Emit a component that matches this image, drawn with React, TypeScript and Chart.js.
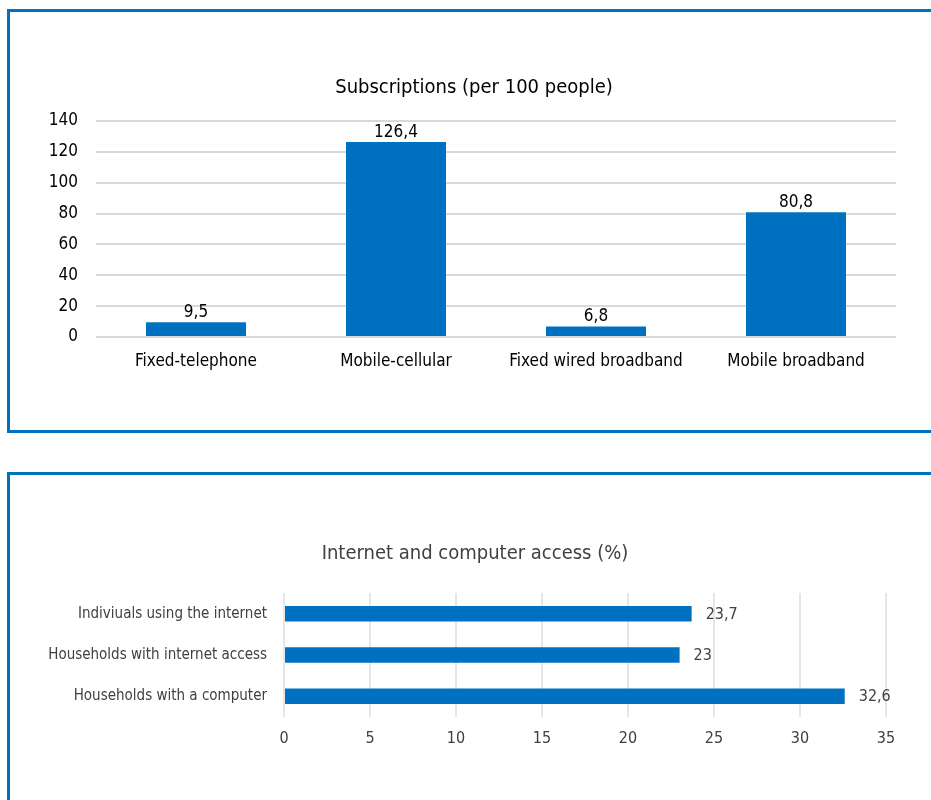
import React, { useEffect, useRef } from "react";
import { Chart, registerables } from "chart.js";

Chart.register(...registerables);

const FONT = '"Liberation Sans Narrow", "Arial Narrow", "DejaVu Sans Condensed", "Roboto", sans-serif';

const subsCategories = ["Fixed-telephone", "Mobile-cellular", "Fixed wired broadband", "Mobile broadband"];
const subsValues = [9.5, 126.4, 6.8, 80.8];
const subsTitle = "Subscriptions (per 100 people)";

const accessCategories = ["Indiviuals using the internet", "Households with internet access", "Households with a computer"];
const accessValues = [23.7, 23, 32.6];
const accessTitle = "Internet and computer access (%)";

const BLUE = "#0070C0";
const fmt = (v: number) => String(v).replace(".", ",");

// shift the title block so that it is centred on the framed panel rather than on the plot
const titleShift = (leftEdge: number) => ({
  id: "titleShift",
  afterLayout(chart: any) {
    const tb = chart.titleBlock;
    if (tb) {
      tb.left = leftEdge;
    }
  },
});

const topLabels = {
  id: "topLabels",
  afterDatasetsDraw(chart: any) {
    const ctx = chart.ctx;
    const meta = chart.getDatasetMeta(0);
    ctx.save();
    ctx.font = `17px ${FONT}`;
    ctx.fillStyle = "#000000";
    ctx.textAlign = "center";
    ctx.textBaseline = "bottom";
    meta.data.forEach((bar: any, i: number) => {
      ctx.fillText(fmt(subsValues[i]), bar.x, bar.y - 1);
    });
    ctx.restore();
  },
};

const sideLabels = {
  id: "sideLabels",
  afterDatasetsDraw(chart: any) {
    const ctx = chart.ctx;
    const meta = chart.getDatasetMeta(0);
    ctx.save();
    ctx.font = `16px ${FONT}`;
    ctx.fillStyle = "#404040";
    ctx.textAlign = "left";
    ctx.textBaseline = "middle";
    meta.data.forEach((bar: any, i: number) => {
      ctx.fillText(fmt(accessValues[i]), bar.x + 14, bar.y + 1);
    });
    ctx.restore();
  },
};

function TopChart() {
  const ref = useRef<HTMLCanvasElement | null>(null);
  useEffect(() => {
    if (!ref.current) return;
    const chart = new Chart(ref.current, {
      type: "bar",
      data: {
        labels: subsCategories,
        datasets: [
          {
            data: subsValues,
            backgroundColor: BLUE,
            barPercentage: 0.5,
            categoryPercentage: 1,
          },
        ],
      },
      options: {
        responsive: false,
        animation: false,
        layout: { padding: { top: 76, left: 0, right: 35, bottom: 63 } },
        plugins: {
          legend: { display: false },
          tooltip: { enabled: false },
          title: {
            display: true,
            text: subsTitle,
            color: "#000000",
            font: { family: FONT, size: 20, weight: "normal", lineHeight: 1.2 },
            padding: { top: 0, bottom: 21 },
          },
        },
        scales: {
          x: {
            grid: { display: false, drawTicks: false },
            border: { display: false },
            ticks: { color: "#000000", font: { family: FONT, size: 17 }, padding: 14, maxRotation: 0 },
            afterFit: (s: any) => {
              s.height = 40;
            },
          },
          y: {
            min: 0,
            max: 140,
            ticks: { stepSize: 20, color: "#000000", font: { family: FONT, size: 17 }, padding: 18 },
            grid: { color: "#d9d9d9", lineWidth: 2, drawTicks: false },
            border: { display: false },
            afterFit: (s: any) => {
              s.width = 96;
            },
          },
        },
      },
      plugins: [topLabels, titleShift(52)],
    });
    return () => chart.destroy();
  }, []);
  return (
    <canvas
      ref={ref}
      width={931}
      height={440}
      style={{ position: "absolute", left: 0, top: 0, width: 931, height: 440 }}
    />
  );
}

function BottomChart() {
  const ref = useRef<HTMLCanvasElement | null>(null);
  useEffect(() => {
    if (!ref.current) return;
    const chart = new Chart(ref.current, {
      type: "bar",
      data: {
        labels: accessCategories,
        datasets: [
          {
            data: accessValues,
            backgroundColor: BLUE,
            barPercentage: 0.75,
            categoryPercentage: 0.5,
          },
        ],
      },
      options: {
        indexAxis: "y",
        responsive: false,
        animation: false,
        layout: { padding: { top: 70, left: 0, right: 45, bottom: 43 } },
        plugins: {
          legend: { display: false },
          tooltip: { enabled: false },
          title: {
            display: true,
            text: accessTitle,
            color: "#404040",
            font: { family: FONT, size: 20, weight: "normal", lineHeight: 1.2 },
            padding: { top: 0, bottom: 27 },
          },
        },
        scales: {
          x: {
            min: 0,
            max: 35,
            ticks: { stepSize: 5, color: "#404040", font: { family: FONT, size: 16 }, padding: 12 },
            grid: { color: "#e6e6e6", lineWidth: 2, drawTicks: false },
            border: { display: false },
            afterFit: (s: any) => {
              s.height = 40;
            },
          },
          y: {
            grid: { display: false, drawTicks: false },
            border: { display: false },
            ticks: { color: "#404040", font: { family: FONT, size: 15 }, padding: 17 },
            afterFit: (s: any) => {
              s.width = 284;
            },
          },
        },
      },
      plugins: [sideLabels, titleShift(64)],
    });
    return () => chart.destroy();
  }, []);
  return (
    <canvas
      ref={ref}
      width={931}
      height={328}
      style={{ position: "absolute", left: 0, top: 472, width: 931, height: 328 }}
    />
  );
}

export default function App() {
  const boxStyle: React.CSSProperties = {
    position: "absolute",
    left: 7,
    width: 960,
    border: `3px solid ${BLUE}`,
    boxSizing: "border-box",
  };
  return (
    <div
      style={{
        position: "absolute",
        left: 0,
        top: 0,
        width: 931,
        height: 800,
        overflow: "hidden",
        background: "#ffffff",
      }}
    >
      <div style={{ ...boxStyle, top: 9, height: 424 }} />
      <div style={{ ...boxStyle, top: 472, height: 400 }} />
      <TopChart />
      <BottomChart />
    </div>
  );
}
